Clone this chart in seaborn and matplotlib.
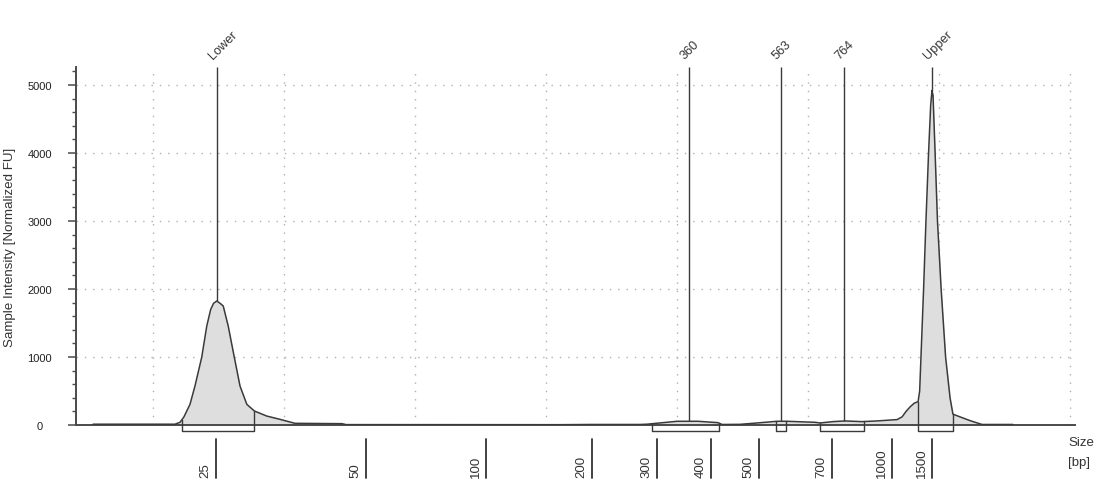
import matplotlib
matplotlib.use("Agg")
import matplotlib.pyplot as plt
from matplotlib.ticker import MultipleLocator
import numpy as np
import pandas as pd
import seaborn as sns

# ---------------- data ----------------
# migration time (s) and normalized fluorescence
time_s = [22.71, 25.84, 26.03, 26.18, 26.41, 26.60, 26.86, 27.05, 27.20, 27.31,
          27.43, 27.56, 27.68, 27.87, 28.10, 28.32, 28.58, 28.87, 29.34, 29.85,
          30.23, 30.42, 32.21, 32.37, 40.53, 41.68, 43.59, 43.85, 44.47, 45.00,
          45.80, 46.56, 46.72, 47.40, 48.05, 48.82, 49.20, 50.27, 50.46, 50.95,
          51.41, 52.06, 52.63, 53.40, 53.59, 53.74, 53.89, 54.05, 54.20, 54.26,
          54.31, 54.41, 54.50, 54.60, 54.68, 54.73, 54.77, 54.85, 54.94, 55.08,
          55.25, 55.42, 55.53, 55.80, 56.18, 56.64, 57.82]
intensity_fu = [12, 12, 40, 120, 304, 573, 1000, 1455, 1700, 1790,
                1824, 1790, 1750, 1455, 1000, 573, 304, 206, 132, 83,
                44, 25, 20, 6, 5, 8, 8, 12, 35, 55,
                55, 35, 8, 10, 30, 55, 55, 40, 30, 50,
                60, 50, 60, 80, 120, 200, 265, 320, 345, 500,
                1000, 2000, 3000, 4000, 4700, 4920, 4850, 4000, 3000, 2000,
                1000, 400, 160, 120, 65, 8, 8]

# peak markers
marker_labels = ["Lower", "360", "563", "764", "Upper"]
marker_time = [27.43, 45.46, 48.97, 51.37, 54.73]
marker_height = [1824, 55, 55, 58, 4920]

# integration regions (start, end, curve height at start/end)
region_start = [26.11, 44.05, 48.78, 50.46, 54.20]
region_end = [28.85, 46.60, 49.16, 52.14, 55.53]
region_h_start = [80, 10, 55, 30, 345]
region_h_end = [210, 35, 55, 55, 160]

# ladder (bp) positions on the time axis
ladder_bp = ["25", "50", "100", "200", "300", "400", "500", "700", "1000", "1500"]
ladder_time = [27.40, 33.13, 37.71, 41.76, 44.24, 46.30, 48.13, 50.92, 53.21, 54.73]

# axis settings
grid_times = [25, 30, 35, 40, 45, 50, 55, 60]
y_ticks = [0, 1000, 2000, 3000, 4000, 5000]
x_range = (22.06, 60.19)
y_top = 5265

# ---------------- drawing ----------------
sns.set_theme(style="white")
plt.rcParams["font.family"] = ["Liberation Sans", "DejaVu Sans"]

fig = plt.figure(figsize=(11, 4.85), dpi=100)
ax = fig.add_axes([0.0691, 0.1216, 0.9082, 0.7381])

line_col = "#3a3a3a"
df = pd.DataFrame({"time": time_s, "fu": intensity_fu})
ax.fill_between(df["time"], df["fu"], 0, color="#dedede", lw=0, zorder=1)
sns.lineplot(data=df, x="time", y="fu", ax=ax, color=line_col, lw=1.1,
             sort=False, estimator=None, zorder=3)

ax.set_xlim(*x_range)
ax.set_ylim(0, y_top)

# grid
ax.set_xticks(grid_times)
ax.set_yticks(y_ticks)
ax.yaxis.set_minor_locator(MultipleLocator(200))
ax.grid(True, which="major", linestyle=(0, (1, 5)), color="#b0b0b0", lw=1)
ax.set_axisbelow(True)

# spines / ticks
for s in ["top", "right"]:
    ax.spines[s].set_visible(False)
for s in ["left", "bottom"]:
    ax.spines[s].set_color("#4a4a4a")
    ax.spines[s].set_linewidth(1.4)
ax.tick_params(axis="x", which="both", length=0, labelbottom=False)
ax.tick_params(axis="y", which="major", length=6, width=1.1, color="#4a4a4a",
               direction="out", pad=20, labelsize=8, labelcolor="#222222", left=True)
ax.tick_params(axis="y", which="minor", length=3, width=1, color="#4a4a4a",
               direction="out", left=True)
for lab in ax.get_yticklabels():
    lab.set_horizontalalignment("center")
ax.set_xlabel("")
ax.set_ylabel("")

# markers
ax.vlines(marker_time, marker_height, y_top, color=line_col, lw=1, zorder=4)
xtr = ax.get_xaxis_transform()
for lab, t in zip(marker_labels, marker_time):
    ax.annotate(lab, xy=(t, 1.0), xycoords=xtr, xytext=(-3, 6),
                textcoords="offset points", rotation=45, rotation_mode="anchor",
                ha="left", va="baseline", fontsize=9.2, color="#333333")

# region boxes under baseline
box_bottom = -95
for s, e, hs, he in zip(region_start, region_end, region_h_start, region_h_end):
    ax.plot([s, s, e, e], [hs, box_bottom, box_bottom, he], color=line_col,
            lw=1, clip_on=False, zorder=5)

# ladder ticks and labels
for lab, t in zip(ladder_bp, ladder_time):
    ax.plot([t, t], [-0.039, -0.148], transform=xtr, clip_on=False,
            color="#333333", lw=1.3)
    ax.annotate(lab, xy=(t, -0.144), xycoords=xtr, xytext=(-7.5, 0),
                textcoords="offset points", rotation=90, ha="center",
                va="bottom", fontsize=9.5, color="#333333")

fig.text(10 / 1100, 1 - 247 / 485, "Sample Intensity [Normalized FU]",
         rotation=90, ha="center", va="center", fontsize=9.6, color="#333333")
fig.text(1068 / 1100, 1 - 443 / 485, "Size", ha="left", va="center",
         fontsize=9.5, color="#333333")
fig.text(1068 / 1100, 1 - 463 / 485, "[bp]", ha="left", va="center",
         fontsize=9.5, color="#333333")

fig.savefig("out.png", dpi=100)
